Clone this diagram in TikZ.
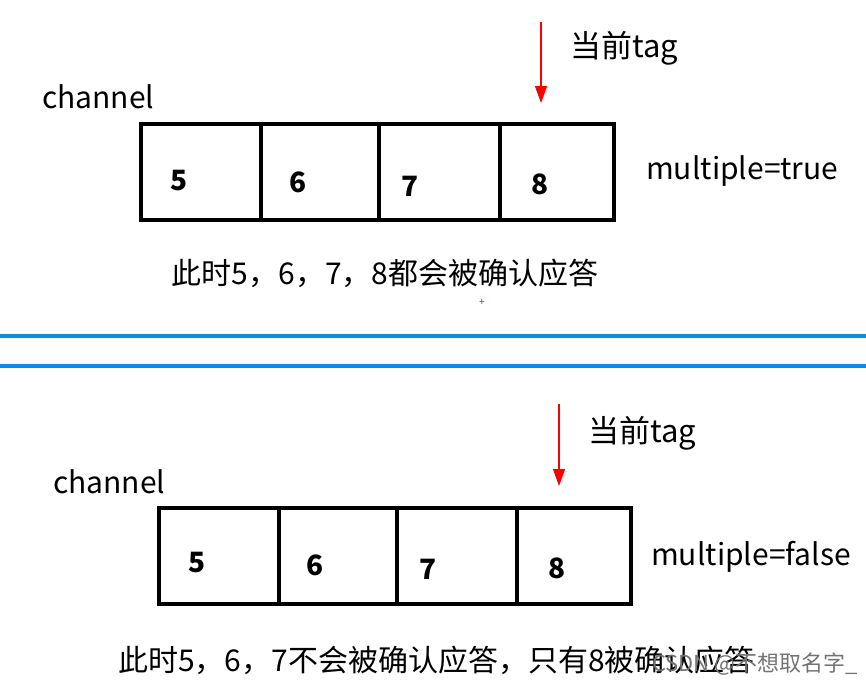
\documentclass[tikz,border=0pt]{standalone}
\usepackage{fontspec}
\setmainfont{Noto Sans CJK SC}
\usetikzlibrary{arrows.meta}
\definecolor{sepblue}{RGB}{10,142,228}
\tikzset{
  lbl/.style={inner sep=0pt, font=\fontsize{30}{34}\selectfont},
  cjklbl/.style={inner sep=0pt, font=\fontsize{30}{34}\selectfont},
  taglbl/.style={inner sep=0pt, font=\fontsize{31}{35}\selectfont},
  num/.style={inner sep=0pt, font=\fontsize{28}{32}\selectfont\bfseries},
  cellbox/.style={draw=black, line width=3.5pt, minimum height=96pt, inner sep=0pt, anchor=north west},
  tagarrow/.style={draw=red, line width=1.2pt, -{Triangle[length=17pt,width=12pt]}},
  sepline/.style={draw=sepblue, line width=4pt},
}
\begin{document}
\begin{tikzpicture}[x=1pt,y=-1pt]
\useasboundingbox (0,0) rectangle (866,686);
% ---- top ----
\node[cellbox, minimum width=120pt] (a1) at (139,122) {};
\node[cellbox, minimum width=118pt] (a2) at (259,122) {};
\node[cellbox, minimum width=121pt] (a3) at (377,122) {};
\node[cellbox, minimum width=114pt] (a4) at (498,122) {};
\node[num] (n5a) at (179,181) {5};
\node[num] (n6a) at (298,182) {6};
\node[num] (n7a) at (410,186) {7};
\node[num] (n8a) at (540,184) {8};
\node[lbl, anchor=west] (cha) at (42,97) {channel};
\coordinate (ta) at (541,22);
\coordinate (tb) at (541,103);
\draw[tagarrow] (ta) -- (tb);
\node[taglbl, anchor=west] (taga) at (570,48) {当前tag};
\node[lbl, anchor=west] (multa) at (646,171) {multiple=true};
\node[cjklbl] (desca) at (385,273) {此时5，6，7，8都会被确认应答};
\node[inner sep=0pt, text=red, font=\fontsize{10}{10}\selectfont] (plus) at (482,302) {+};
% ---- separators ----
\coordinate (s1l) at (0,336);
\coordinate (s1r) at (866,336);
\coordinate (s2l) at (0,366);
\coordinate (s2r) at (866,366);
\draw[sepline] (s1l) -- (s1r);
\draw[sepline] (s2l) -- (s2r);
% ---- bottom ----
\node[cellbox, minimum width=120pt] (b1) at (157,506) {};
\node[cellbox, minimum width=118pt] (b2) at (277,506) {};
\node[cellbox, minimum width=120pt] (b3) at (395,506) {};
\node[cellbox, minimum width=114pt] (b4) at (515,506) {};
\node[num] (n5b) at (197,563) {5};
\node[num] (n6b) at (315,565) {6};
\node[num] (n7b) at (428,569) {7};
\node[num] (n8b) at (557,568) {8};
\node[lbl, anchor=west] (chb) at (53,482) {channel};
\coordinate (tc) at (559,404);
\coordinate (td) at (559,486);
\draw[tagarrow] (tc) -- (td);
\node[taglbl, anchor=west] (tagb) at (588,433) {当前tag};
\node[lbl, anchor=west] (multb) at (651,557) {multiple=false};
\node[cjklbl, anchor=west] (descb) at (118,660) {此时5，6，7不会被确认应答，只有8被确认应答};
\node[inner sep=0pt, anchor=east, text=black!55, font=\fontsize{22}{26}\selectfont] (wm) at (858,664) {CSDN @不想取名字\_};
\end{tikzpicture}
\end{document}
